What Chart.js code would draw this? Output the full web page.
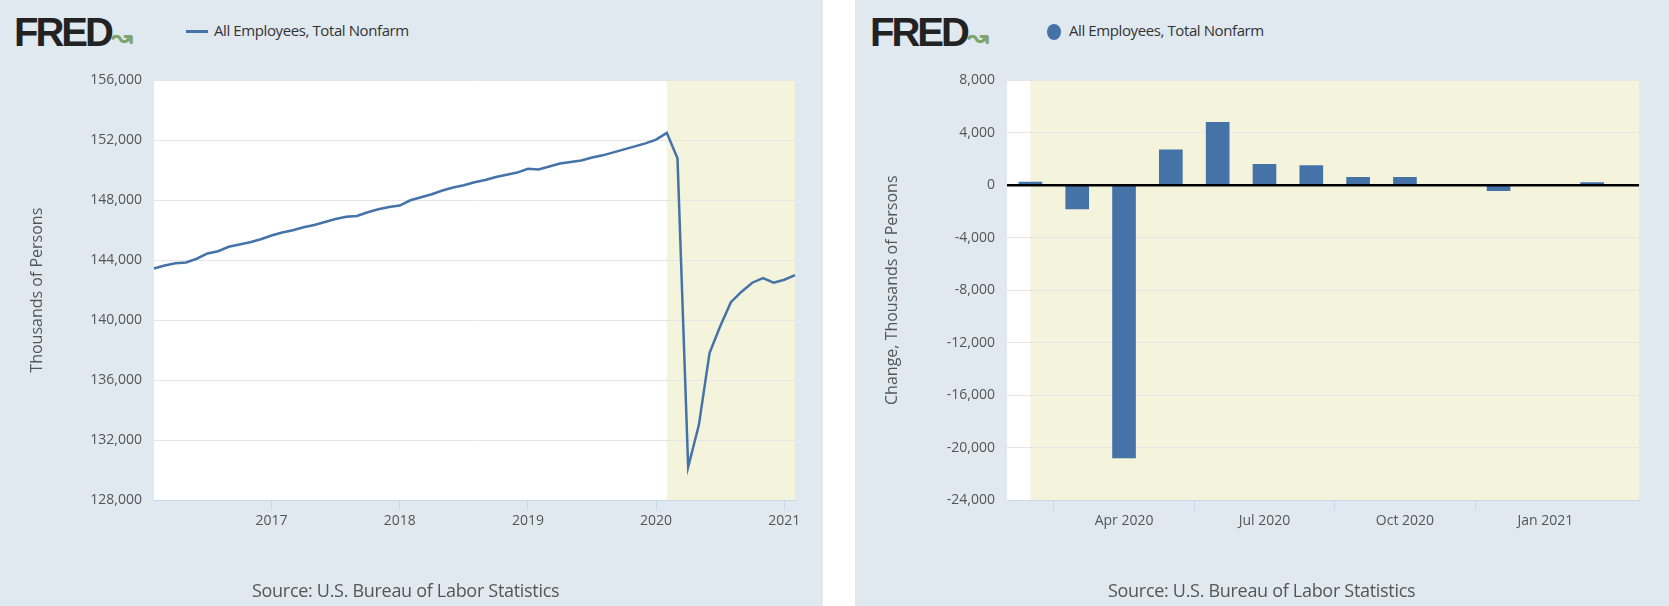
<!DOCTYPE html>
<html><head><meta charset="utf-8">
<script src="https://cdn.jsdelivr.net/npm/chart.js@4"></script>
<style>
body{margin:0;width:1669px;height:606px;background:#fff;font-family:"Open Sans",sans-serif;overflow:hidden;position:relative}
.panel{position:absolute;top:0;height:606px;background:#e1e9f0}
.logo{position:absolute;top:10px;font:bold 40px "Liberation Sans",Arial,sans-serif;letter-spacing:-3px;color:#222}
.leg{position:absolute;top:20px;font-size:15px;color:#333;letter-spacing:-0.4px}
.src{position:absolute;top:578px;font-size:18px;color:#555;letter-spacing:-0.3px}
canvas{position:absolute}
</style></head><body>
<div class="panel" style="left:0;width:823px">
  <div class="logo" style="left:14px">FRED<span style="font-size:26px;color:#7fa36c;letter-spacing:0">&#x219D;</span></div>
  <div class="leg" style="left:186px"><span style="display:inline-block;width:22px;height:3px;background:#4572a7;vertical-align:middle;margin-right:6px"></span>All Employees, Total Nonfarm</div>
  <canvas id="c1"></canvas>
  <div class="src" style="left:252px">Source: U.S. Bureau of Labor Statistics</div>
</div>
<div class="panel" style="left:855px;width:814px">
  <div class="logo" style="left:15px">FRED<span style="font-size:26px;color:#7fa36c;letter-spacing:0">&#x219D;</span></div>
  <div class="leg" style="left:192px"><span style="display:inline-block;width:14px;height:16px;border-radius:50%;background:#4572a7;vertical-align:middle;margin-right:8px"></span>All Employees, Total Nonfarm</div>
  <canvas id="c2"></canvas>
  <div class="src" style="left:253px">Source: U.S. Bureau of Labor Statistics</div>
</div>
<script>
const months = [];
for (let y = 2016; y <= 2021; y++) for (let m = 1; m <= 12; m++) {
  if ((y === 2016 && m < 2) || (y === 2021 && m > 2)) continue;
  months.push(y + '-' + String(m).padStart(2, '0'));
}
const levels = [
  143450,143650,143800,143850,144100,144450,144600,144900,145050,145200,145400,
  145650,145850,146000,146200,146350,146550,146750,146900,146950,147200,147400,147550,
  147650,148000,148200,148400,148650,148850,149000,149200,149350,149550,149700,149850,
  150100,150050,150250,150450,150550,150650,150850,151000,151200,151400,151600,151800,
  152050,152500,150800,130200,133000,137800,139600,141200,141900,142500,142800,142500,
  142700,143000
];
const changeMonths = ['Feb 2020','Mar 2020','Apr 2020','May 2020','Jun 2020','Jul 2020','Aug 2020','Sep 2020','Oct 2020','Nov 2020','Dec 2020','Jan 2021','Feb 2021'];
const changes = [250,-1800,-20800,2700,4800,1600,1500,600,600,30,-400,30,200];
const changeTicks = [2,5,8,11];

const blue = '#4572a7', shade = '#f4f4dc', grid = '#e6e6e6', tickCol = '#555';
const fmt = v => Number(v).toLocaleString('en-US');

function setup(id, w) {
  const c = document.getElementById(id);
  c.style.left = '0px'; c.style.top = '60px';
  c.style.width = w + 'px'; c.style.height = '520px';
  return c;
}

// plot background + recession shading
const bgPlugin = {
  id: 'bg',
  beforeDraw(chart, args, opts) {
    const a = chart.chartArea, ctx = chart.ctx;
    ctx.save();
    ctx.fillStyle = '#fff';
    ctx.fillRect(a.left, a.top, a.right - a.left, a.bottom - a.top);
    const x0 = chart.scales.x.getPixelForValue(opts.from);
    ctx.fillStyle = shade;
    ctx.fillRect(x0, a.top, a.right - x0, a.bottom - a.top);
    ctx.restore();
  }
};

// black zero line over the bars
const zeroPlugin = {
  id: 'zero',
  afterDatasetsDraw(chart) {
    const a = chart.chartArea, ctx = chart.ctx, y = chart.scales.y.getPixelForValue(0);
    ctx.save();
    ctx.strokeStyle = '#000'; ctx.lineWidth = 2.5;
    ctx.beginPath(); ctx.moveTo(a.left, y); ctx.lineTo(a.right, y); ctx.stroke();
    ctx.restore();
  }
};

Chart.defaults.font.family = '"Open Sans", sans-serif';
Chart.defaults.animation = false;

new Chart(setup('c1', 823), {
  type: 'line',
  data: { labels: months, datasets: [{ data: levels, borderColor: blue, borderWidth: 2.5, pointRadius: 0, tension: 0 }] },
  plugins: [bgPlugin],
  options: {
    responsive: false, maintainAspectRatio: false,
    layout: { padding: { top: 10, right: 28 } },
    plugins: { legend: { display: false }, tooltip: { enabled: false }, bg: { from: months.indexOf('2020-02') } },
    scales: {
      x: {
        offset: false,
        grid: { drawOnChartArea: false, tickLength: 10,
          tickColor: c => (months[c.index] || '').endsWith('-01') ? '#ccd6eb' : 'rgba(0,0,0,0)' },
        border: { color: '#ccd6eb' },
        ticks: { autoSkip: false, maxRotation: 0, color: tickCol, font: { size: 14 },
          callback: (v, i) => months[i].endsWith('-01') ? months[i].slice(0, 4) : '' },
        afterFit: s => { s.height = 80; }
      },
      y: {
        min: 128000, max: 156000,
        ticks: { stepSize: 4000, color: tickCol, font: { size: 14 }, callback: fmt, padding: 12 },
        grid: { color: grid, drawTicks: false },
        border: { display: false },
        title: { display: true, text: 'Thousands of Persons', color: tickCol, font: { size: 16 }, padding: { top: 28, bottom: 0 } },
        afterFit: s => { s.width = 154; }
      }
    }
  }
});

new Chart(setup('c2', 814), {
  type: 'bar',
  data: { datasets: [{ data: changes.map((v, i) => ({ x: i, y: v })), backgroundColor: blue, barThickness: 23 }] },
  plugins: [bgPlugin, zeroPlugin],
  options: {
    responsive: false, maintainAspectRatio: false,
    layout: { padding: { top: 10, right: 30 } },
    plugins: { legend: { display: false }, tooltip: { enabled: false }, bg: { from: 0 } },
    scales: {
      x: {
        type: 'linear', min: -0.5, max: 13, offset: false,
        afterBuildTicks: s => { s.ticks = changeTicks.map(v => ({ value: v })); },
        grid: { drawOnChartArea: false, tickLength: 10,
          tickColor: c => c.tick && changeTicks.includes(c.tick.value) ? '#ccd6eb' : 'rgba(0,0,0,0)' },
        border: { color: '#ccd6eb' },
        ticks: { color: tickCol, font: { size: 14 }, maxRotation: 0, callback: v => changeMonths[v] },
        afterFit: s => { s.height = 80; }
      },
      y: {
        min: -24000, max: 8000,
        ticks: { stepSize: 4000, color: tickCol, font: { size: 14 }, callback: fmt, padding: 12 },
        grid: { color: grid, drawTicks: false },
        border: { display: false },
        title: { display: true, text: 'Change, Thousands of Persons', color: tickCol, font: { size: 16 }, padding: { top: 28, bottom: 0 } },
        afterFit: s => { s.width = 152; }
      }
    }
  }
});
</script>
</body></html>
